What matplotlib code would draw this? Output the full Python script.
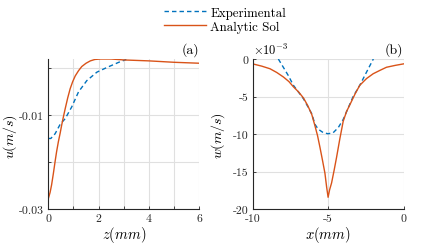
import matplotlib
matplotlib.use("Agg")
import matplotlib.pyplot as plt

plt.rcParams['font.family'] = 'cmr10'
plt.rcParams['mathtext.fontset'] = 'cm'
plt.rcParams['axes.unicode_minus'] = False

# panel (a): u vs z
z_exp = [0.0, 0.1, 0.27, 0.47, 0.67, 0.93, 1.2, 1.53, 1.93, 2.33, 2.8, 3.1]
u_exp = [-0.0150, -0.0150, -0.0140, -0.0120, -0.0108, -0.0083, -0.0051, -0.0027, -0.0009, 0.0001, 0.0012, 0.0018]
z_ana = [0.0, 0.07, 0.13, 0.2, 0.27, 0.33, 0.4, 0.47, 0.53, 0.6, 0.67, 0.77, 0.87, 0.97, 1.07, 1.2, 1.33, 1.5,
         1.67, 1.85, 2.07, 2.5, 3.0, 4.0, 5.0, 6.0]
u_ana = [-0.0278, -0.0265, -0.0249, -0.0225, -0.0199, -0.0178, -0.0157, -0.0139, -0.0122, -0.0104, -0.0087,
         -0.0064, -0.0044, -0.0029, -0.0017, -0.0006, 0.0003, 0.0010, 0.0015, 0.0018, 0.0019, 0.0019, 0.0017,
         0.0015, 0.0012, 0.0010]

# panel (b): w vs x  (units of 1e-3 m/s)
x_exp = [-8.3, -7.97, -7.64, -7.3, -6.63, -6.08, -5.87, -5.65, -5.32, -5.0, -4.66, -4.33, -4.0, -3.6, -3.34, -2.9, -2.45, -2.0]
w_exp = [0.0, -1.1, -2.2, -3.5, -5.3, -7.3, -8.7, -9.35, -9.8, -9.95, -9.8, -9.14, -8.05, -6.2, -5.0, -3.5, -1.74, 0.0]
x_ana = [-10.0, -9.4, -8.85, -8.4, -7.96, -7.6, -7.3, -6.95, -6.63, -6.35, -6.08, -5.87, -5.7, -5.54, -5.37, -5.21,
         -5.1, -5.0, -4.9, -4.77, -4.6, -4.44, -4.22, -4.0, -3.78, -3.56, -3.2, -2.9, -2.45, -2.01, -1.55, -1.13,
         -0.55, 0.0]
w_ana = [-0.65, -0.95, -1.3, -1.8, -2.4, -3.0, -3.7, -4.4, -5.2, -6.2, -7.4, -8.9, -10.2, -11.75, -13.5, -15.2,
         -17.0, -18.4, -17.4, -16.5, -14.8, -13.1, -10.6, -8.3, -7.0, -6.1, -4.6, -3.5, -2.6, -1.96, -1.5, -1.1,
         -0.85, -0.65]

blue = '#0072BD'
orange = '#D95319'
grid_c = '#e0e0e0'
W, H = 421, 253

fig = plt.figure(figsize=(W / 100, H / 100), dpi=100)
ax1 = fig.add_axes([48.3 / W, 1 - 210 / H, 151 / W, 150 / H])
ax2 = fig.add_axes([252.7 / W, 1 - 210.3 / H, 150.8 / W, 150.3 / H])

dash = (0, (3.2, 2.2))

ax1.plot(z_exp, u_exp, color=blue, lw=1.0, linestyle=dash, label='Experimental')
ax1.plot(z_ana, u_ana, color=orange, lw=1.0, label='Analytic Sol')
ax1.set_xlim(0, 6)
ax1.set_ylim(-0.03, 0.0019)
ax1.set_xticks(range(7))
ax1.set_xticklabels(['0', '', '2', '', '4', '', '6'])
ax1.set_yticks([-0.03, -0.02, -0.01, 0])
ax1.set_yticklabels(['-0.03', '', '-0.01', ''])
ax1.set_xlabel(r'$z(mm)$', fontsize=10.5, labelpad=1)
ax1.set_ylabel(r'$u(m/s)$', fontsize=10)
ax1.yaxis.set_label_coords(-0.195, 0.49)
ax1.text(1.0, 1.02, '(a)', transform=ax1.transAxes, ha='right', va='bottom', fontsize=10)

ax2.plot(x_exp, w_exp, color=blue, lw=1.0, linestyle=dash)
ax2.plot(x_ana, w_ana, color=orange, lw=1.0)
ax2.set_xlim(-10, 0)
ax2.set_ylim(-20, 0)
ax2.set_xticks([-10, -5, 0])
ax2.set_xticklabels(['-10', '-5', '0'])
ax2.set_yticks([-20, -15, -10, -5, 0])
ax2.set_yticklabels(['-20', '-15', '-10', '-5', '0'])
ax2.set_xlabel(r'$x(mm)$', fontsize=10.5, labelpad=1)
ax2.set_ylabel(r'$w(m/s)$', fontsize=10)
ax2.yaxis.set_label_coords(-0.17, 0.5)
ax2.text(0.0, 1.01, r'$\times10^{-3}$', transform=ax2.transAxes, ha='left', va='bottom', fontsize=9)
ax2.text(1.0, 1.02, '(b)', transform=ax2.transAxes, ha='right', va='bottom', fontsize=10)

for ax in (ax1, ax2):
    ax.grid(True, color=grid_c, lw=0.8)
    ax.set_axisbelow(True)
    for s in ('top', 'right'):
        ax.spines[s].set_visible(False)
    for s in ('left', 'bottom'):
        ax.spines[s].set_color('#262626')
        ax.spines[s].set_linewidth(0.8)
    ax.tick_params(direction='in', length=2.5, width=0.6, labelsize=8.5, colors='#262626', pad=3)

fig.legend(loc='upper left', bbox_to_anchor=(156 / W, 1.0), frameon=False, fontsize=9.3,
           handlelength=3.3, handletextpad=0.3, labelspacing=0.15, borderpad=0.1)

fig.savefig('out.png', dpi=100)
